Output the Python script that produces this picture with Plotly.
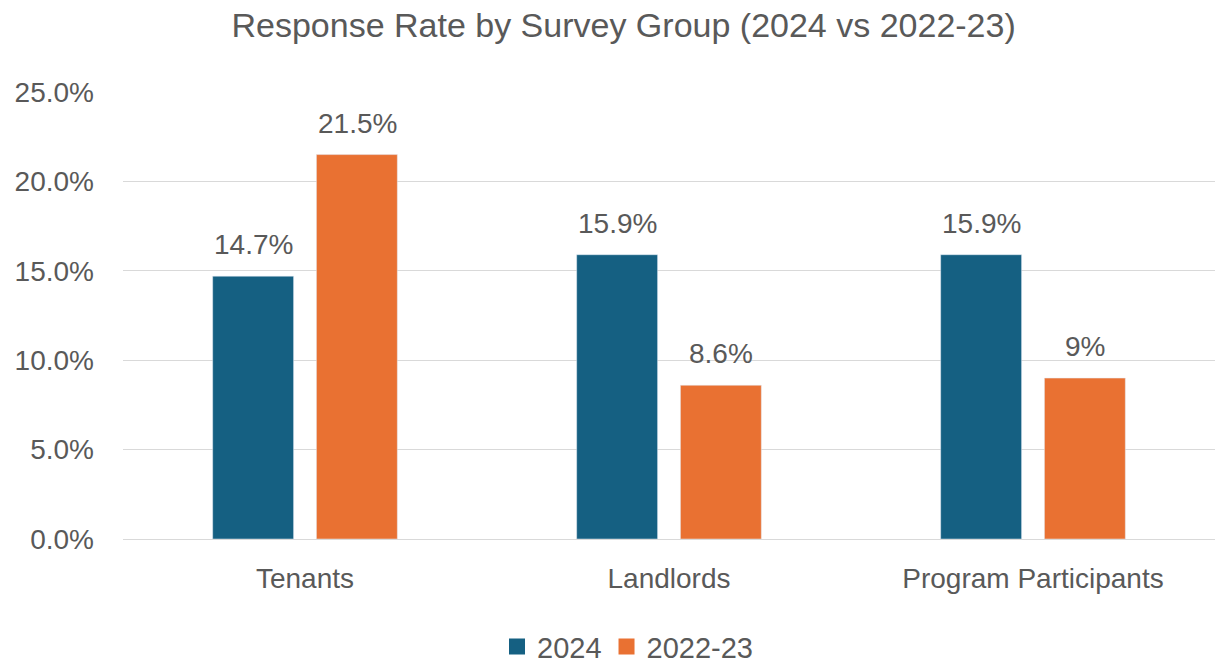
import plotly.graph_objects as go

categories = ["Tenants", "Landlords", "Program Participants"]
rate_2024 = [14.7, 15.9, 15.9]
rate_2022_23 = [21.5, 8.6, 9]
labels_2024 = ["14.7%", "15.9%", "15.9%"]
labels_2022_23 = ["21.5%", "8.6%", "9%"]
y_ticks = [0, 5, 10, 15, 20, 25]
y_tick_text = ["0.0%", "5.0%", "10.0%", "15.0%", "20.0%", "25.0%"]

BLUE = "#156082"
ORANGE = "#E97132"
TEXT = "#595959"
FONT = "Liberation Sans"

series = [
    ("2024", rate_2024, labels_2024, BLUE, -52),
    ("2022-23", rate_2022_23, labels_2022_23, ORANGE, 52),
]

fig = go.Figure()
for name, values, labels, color, _ in series:
    fig.add_trace(go.Bar(
        name=name, x=categories, y=values,
        marker_color=color, showlegend=False,
    ))
# legend entries with larger square swatches
for name, values, labels, color, _ in series:
    fig.add_trace(go.Scatter(
        name=name, x=[None], y=[None], mode="markers",
        marker=dict(symbol="square", size=16, color=color),
    ))

# value labels above each bar
for name, values, labels, color, dx in series:
    for cat, v, lab in zip(categories, values, labels):
        fig.add_annotation(
            x=cat, y=v, text=lab, showarrow=False,
            xshift=dx, yshift=14, yanchor="bottom",
            font=dict(size=28, color=TEXT, family=FONT),
        )

fig.update_layout(
    width=1218, height=664,
    margin=dict(l=123, r=3, t=92, b=125),
    paper_bgcolor="white", plot_bgcolor="white",
    barmode="group", bargap=0.43, bargroupgap=0.22,
    title=dict(
        text="Response Rate by Survey Group (2024 vs 2022-23)",
        x=0.512, xanchor="center", y=0.962, yanchor="middle",
        font=dict(family=FONT, size=34, color=TEXT),
    ),
    font=dict(family=FONT, color=TEXT, size=28),
    legend=dict(
        orientation="h", x=0.462, xanchor="center",
        yref="container", y=0.026, yanchor="middle",
        font=dict(size=29, color=TEXT, family=FONT),
        itemwidth=30, itemsizing="trace", tracegroupgap=0,
    ),
)
fig.update_xaxes(
    showgrid=False, showline=True, linecolor="#d9d9d9", linewidth=1,
    ticks="", ticklabelstandoff=14, automargin=False,
    tickfont=dict(size=28, color=TEXT, family=FONT),
)
fig.update_yaxes(
    range=[0, 25], tickvals=y_ticks, ticktext=y_tick_text,
    showgrid=True, gridcolor="#d9d9d9", gridwidth=1,
    zeroline=False, showline=False, ticks="",
    ticklabelstandoff=28, automargin=False,
    tickfont=dict(size=28, color=TEXT, family=FONT),
)

fig.write_html("out.html")
